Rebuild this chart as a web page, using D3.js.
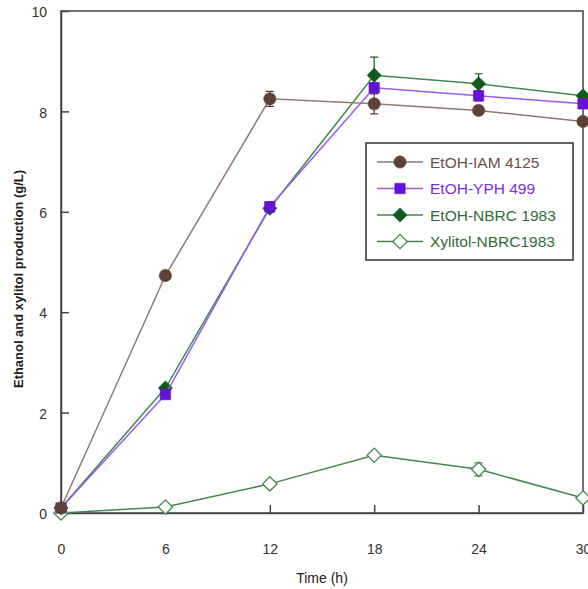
<!DOCTYPE html>
<html>
<head>
<meta charset="utf-8">
<script src="https://cdn.jsdelivr.net/npm/d3@7"></script>
<style>
  body { margin: 0; background: #fff; }
  text { font-family: "Liberation Sans", Arial, sans-serif; }
</style>
</head>
<body>
<div class="chart"></div>
<script>
let times = [0, 6, 12, 18, 24, 30];
let xTicks = [0, 6, 12, 18, 24, 30];
let yTicks = [0, 2, 4, 6, 8, 10];

let iamValues = [0.1, 4.73, 8.25, 8.15, 8.02, 7.8];
let iamErrors = [0, 0.08, 0.15, 0.2, 0.08, 0.05];
let yphValues = [0.1, 2.36, 6.1, 8.47, 8.31, 8.15];
let yphErrors = [0, 0.05, 0.1, 0.1, 0.1, 0.08];
let nbrcValues = [0.1, 2.49, 6.07, 8.72, 8.55, 8.31];
let nbrcErrors = [0, 0.05, 0.08, 0.36, 0.2, 0.05];
let xylValues = [0.0, 0.12, 0.58, 1.15, 0.87, 0.3];
let xylErrors = [0, 0.03, 0.05, 0.05, 0.13, 0.05];

let seriesNames = ['EtOH-IAM 4125', 'EtOH-YPH 499', 'EtOH-NBRC 1983', 'Xylitol-NBRC1983'];

let series = [
  { name: seriesNames[0], values: iamValues, errors: iamErrors, line: '#8f7a74', mark: '#5e4239', text: '#6b4f47', shape: 'circle', fill: '#5e4239' },
  { name: seriesNames[1], values: yphValues, errors: yphErrors, line: '#9a5cf0', mark: '#6511d6', text: '#7a2ee0', shape: 'square', fill: '#6511d6' },
  { name: seriesNames[2], values: nbrcValues, errors: nbrcErrors, line: '#3f8a4c', mark: '#0f5a1c', text: '#2f6e3a', shape: 'diamond', fill: '#0f5a1c' },
  { name: seriesNames[3], values: xylValues, errors: xylErrors, line: '#3f8a4c', mark: '#3f8a4c', text: '#2f6e3a', shape: 'diamond', fill: '#fff' }
];

let margin = { top: 11, right: 5, bottom: 76, left: 61 };
let width = 588 - margin.left - margin.right;
let height = 589 - margin.top - margin.bottom;

let svg = d3.select('.chart')
  .append('svg')
    .attr('width', 588)
    .attr('height', 589)
  .append('g')
    .attr('transform', `translate(${margin.left}, ${margin.top})`);

let xScale = d3.scaleLinear().domain([0, 30]).range([0, width]);
let yScale = d3.scaleLinear().domain([0, 10]).range([height, 0]);

// frame
svg.append('rect')
  .attr('width', width)
  .attr('height', height)
  .style('fill', 'none')
  .style('stroke', '#444')
  .style('stroke-width', 1.5);

let yAxis = d3.axisLeft(yScale)
  .tickValues(yTicks)
  .tickSizeInner(-8)
  .tickSizeOuter(0)
  .tickPadding(14);
let gy = svg.append('g').call(yAxis);

let xAxis = d3.axisBottom(xScale)
  .tickValues(xTicks)
  .tickSizeInner(-8)
  .tickSizeOuter(0)
  .tickPadding(31);
let gx = svg.append('g')
  .attr('transform', `translate(0, ${height})`)
  .call(xAxis);

[gx, gy].forEach(g => {
  g.select('.domain').style('stroke', '#444').style('stroke-width', 1.5);
  g.selectAll('.tick line').style('stroke', '#444').style('stroke-width', 1.5);
  g.selectAll('.tick text').style('font-size', '14px').style('fill', '#333');
});
gy.selectAll('.tick text').attr('dy', '0.4em');

// axis titles
svg.append('text')
  .attr('x', width / 2)
  .attr('y', height + 70)
  .attr('text-anchor', 'middle')
  .style('font-size', '14px')
  .style('fill', '#222')
  .text('Time (h)');

svg.append('text')
  .attr('transform', `translate(${-38}, ${height / 2 + 17}) rotate(-90)`)
  .attr('text-anchor', 'middle')
  .attr('textLength', 218)
  .attr('lengthAdjust', 'spacingAndGlyphs')
  .style('font-size', '13.5px')
  .style('font-weight', 'bold')
  .style('fill', '#222')
  .text('Ethanol and xylitol production (g/L)');

function symbolFor(s) {
  if (s.shape === 'circle') return d3.symbol().type(d3.symbolCircle).size(120);
  if (s.shape === 'square') return d3.symbol().type(d3.symbolSquare).size(110);
  return d3.symbol().type(d3.symbolDiamond2).size(130);
}

let line = d3.line()
  .x((d, i) => xScale(times[i]))
  .y(d => yScale(d));

// draw in reverse so EtOH series sit on top of xylitol
series.slice().reverse().forEach(s => {
  let g = svg.append('g');
  g.append('path')
    .datum(s.values)
    .attr('d', line)
    .style('fill', 'none')
    .style('stroke', s.line)
    .style('stroke-width', 1.5);

  g.selectAll('.err')
    .data(s.values.map((v, i) => ({ t: times[i], v: v, e: s.errors[i] })).filter(d => d.e > 0))
    .enter().append('path')
      .attr('d', d => {
        let x = xScale(d.t), y1 = yScale(d.v + d.e), y2 = yScale(d.v - d.e);
        return `M${x - 4},${y1}H${x + 4}M${x},${y1}V${y2}M${x - 4},${y2}H${x + 4}`;
      })
      .style('stroke', s.mark)
      .style('stroke-width', 1.2)
      .style('fill', 'none');

  g.selectAll('.pt')
    .data(s.values)
    .enter().append('path')
      .attr('transform', (d, i) => `translate(${xScale(times[i])}, ${yScale(d)})`)
      .attr('d', symbolFor(s)())
      .style('fill', s.fill)
      .style('stroke', s.mark)
      .style('stroke-width', s.fill === '#fff' ? 1.3 : 0.5);
});

// legend
let legend = svg.append('g')
  .attr('transform', `translate(${366 - margin.left}, ${143 - margin.top})`);
legend.append('rect')
  .attr('width', 207)
  .attr('height', 117)
  .style('fill', '#fff')
  .style('stroke', '#333')
  .style('stroke-width', 1.5);

series.forEach((s, i) => {
  let y = 19 + i * 26.5;
  legend.append('line')
    .attr('x1', 11).attr('x2', 57)
    .attr('y1', y).attr('y2', y)
    .style('stroke', s.line)
    .style('stroke-width', 1.5);
  legend.append('path')
    .attr('transform', `translate(34, ${y})`)
    .attr('d', symbolFor(s)())
    .style('fill', s.fill)
    .style('stroke', s.mark)
    .style('stroke-width', s.fill === '#fff' ? 1.3 : 0.5);
  legend.append('text')
    .attr('x', 64)
    .attr('y', y)
    .attr('dy', '0.36em')
    .style('font-size', '15.5px')
    .style('fill', s.text)
    .text(s.name);
});
</script>
</body>
</html>
